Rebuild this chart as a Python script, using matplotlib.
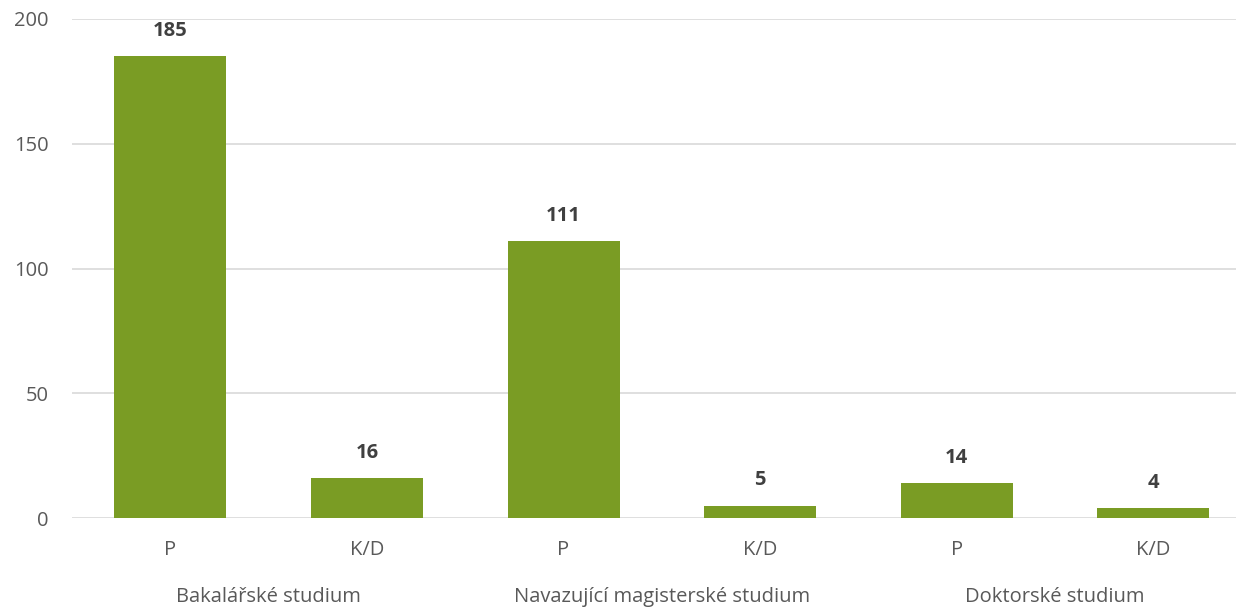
import matplotlib.pyplot as plt
import numpy as np

# data
groups = ['Bakalářské studium', 'Navazující magisterské studium', 'Doktorské studium']
forms = ['P', 'K/D']
values = [185, 16, 111, 5, 14, 4]

plt.rcParams['font.family'] = ['Open Sans', 'DejaVu Sans']
txt_color = '#595959'
bar_color = '#7A9C24'

fig = plt.figure(figsize=(12.36, 6.10), dpi=100)
ax = fig.add_axes([72 / 1236, 1 - 518 / 610, (1236 - 72) / 1236, (518 - 19) / 610])

x = np.arange(len(values))
bars = ax.bar(x, values, width=0.57, color=bar_color, zorder=3)

for b, v in zip(bars, values):
    ax.annotate(str(v), (b.get_x() + b.get_width() / 2, v), xytext=(0, 11),
                textcoords='offset points', ha='center', va='bottom',
                fontsize=14.5, fontweight='bold', color='#404040')

ax.set_ylim(0, 200)
ax.set_yticks([0, 50, 100, 150, 200])
ax.set_xlim(-0.5, 5.42)
ax.yaxis.grid(True, color='#d9d9d9', linewidth=1.2)
for s in ax.spines.values():
    s.set_visible(False)
ax.tick_params(axis='both', length=0, labelsize=14.5, labelcolor=txt_color)
ax.tick_params(axis='y', pad=17)
ax.tick_params(axis='x', pad=16)

ax.set_xticks(x)
ax.set_xticklabels(forms * len(groups))

# group labels under the tick labels
for i, g in enumerate(groups):
    ax.text(2 * i + 0.5, -0.158, g, transform=ax.get_xaxis_transform(),
            ha='center', va='center', fontsize=14.5, color=txt_color)

fig.savefig('out.png', dpi=100)
